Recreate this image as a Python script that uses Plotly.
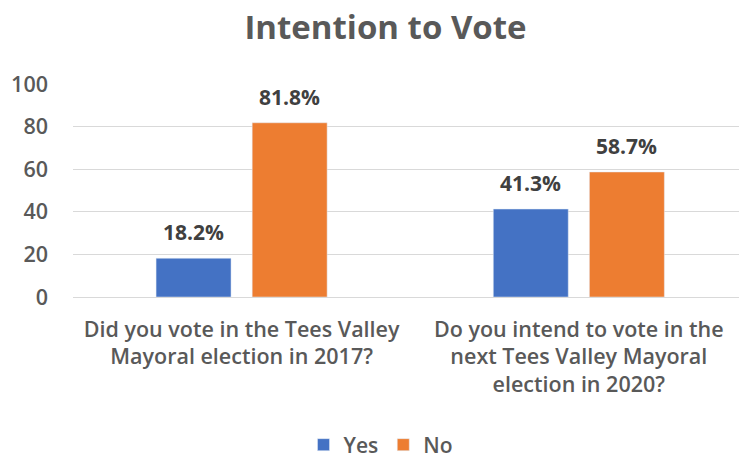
import plotly.graph_objects as go

categories = [
    "Did you vote in the Tees Valley<br>Mayoral election in 2017?",
    "Do you intend to vote in the<br>next Tees Valley Mayoral<br>election in 2020?",
]
yes_values = [18.2, 41.3]
no_values = [81.8, 58.7]
series_names = ["Yes", "No"]
y_ticks = [0, 20, 40, 60, 80, 100]

FONT = "'Open Sans', Lato, sans-serif"
GREY = "#595959"
LABEL = "#404040"
BLUE = "#4472C4"
ORANGE = "#ED7D31"

W, H = 739, 459
ML, MT = 73, 83.5
PLOT_BOTTOM = 297.5
MB = H - PLOT_BOTTOM
BARGAP = 0.43
XRANGE = [-0.5, 1.475]
unit_px = (W - ML) / (XRANGE[1] - XRANGE[0])
slot_off = unit_px * (1 - BARGAP) / 4

fig = go.Figure()
fig.add_trace(go.Bar(name=series_names[0], x=categories, y=yes_values, marker_color=BLUE))
fig.add_trace(go.Bar(name=series_names[1], x=categories, y=no_values, marker_color=ORANGE))

for vals, sign in ((yes_values, -1), (no_values, 1)):
    for c, v in zip(categories, vals):
        fig.add_annotation(
            x=c, y=v, xref="x", yref="y", text=f"<b>{v:.1f}%</b>",
            showarrow=False, xshift=sign * slot_off, yshift=26, yanchor="middle",
            font=dict(family=FONT, size=21, color=LABEL),
        )

fig.update_layout(
    width=W, height=H,
    margin=dict(l=ML, r=0, t=MT, b=MB, pad=0),
    paper_bgcolor="white", plot_bgcolor="white",
    barmode="group", bargap=BARGAP, bargroupgap=0.22,
    title=dict(text="<b>Intention to Vote</b>", x=385.5 / W, xanchor="center",
               y=1 - 27 / H, yanchor="middle", yref="container",
               font=dict(family=FONT, size=33, color=GREY)),
    font=dict(family=FONT, size=21.5, color=GREY, weight=600),
    legend=dict(orientation="h", x=381 / W, xanchor="center", xref="container",
                y=(H - 445) / H, yanchor="middle", yref="container",
                font=dict(family=FONT, size=21, color=GREY, weight=600),
                itemwidth=30, traceorder="normal"),
    xaxis=dict(type="category", range=XRANGE, showgrid=False, showline=False,
               ticks="", tickfont=dict(family=FONT, size=21.5, color=GREY, weight=600),
               ticklabelstandoff=17, tickangle=0),
    yaxis=dict(range=[0, 100], tickvals=y_ticks, showgrid=True, gridcolor="#D9D9D9",
               gridwidth=1, zeroline=True, zerolinecolor="#D9D9D9", zerolinewidth=1,
               showline=False, ticks="", tickfont=dict(family=FONT, size=21.5, color=GREY, weight=600),
               ticklabelstandoff=24),
)

fig.write_html("out.html", config={"displayModeBar": False},
               post_script="document.body.style.margin='0';")
